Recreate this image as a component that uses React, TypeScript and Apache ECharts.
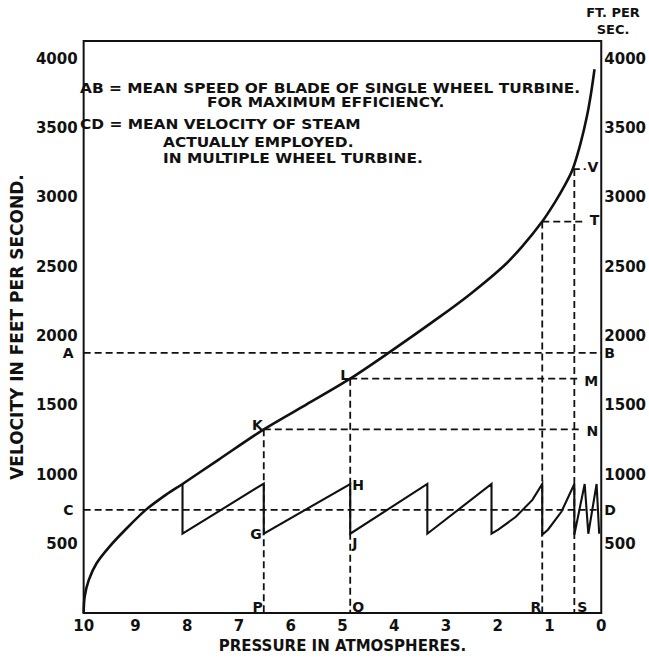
import React, { useEffect, useRef } from "react";
import * as echarts from "echarts";

// ---- data ----
const pressureTicks = [10, 9, 8, 7, 6, 5, 4, 3, 2, 1, 0];
const velocityTicks = [500, 1000, 1500, 2000, 2500, 3000, 3500, 4000];
const velocityTop = 4129;

// velocity of steam vs. pressure (main curve)
const curvePressure = [10, 9.98, 9.9, 9.75, 9.5, 9.2, 8.8, 8.4, 8.09, 7.39, 6.52, 5.7, 4.85, 4.11, 3.17, 2.54, 1.9, 1.53, 1.14, 0.89, 0.7, 0.55, 0.4, 0.28, 0.2, 0.13];
const curveVelocity = [0, 120, 240, 360, 480, 600, 745, 857, 932, 1108, 1326, 1505, 1692, 1878, 2125, 2300, 2500, 2645, 2826, 2968, 3090, 3205, 3390, 3580, 3745, 3925];

// multiple wheel turbine sawtooth
const sawPressure = [8.09, 8.09, 6.52, 6.52, 4.85, 4.85, 3.36, 3.36, 2.12, 2.12, 1.99, 1.65, 1.33, 1.14, 1.14, 1.03, 0.77, 0.52, 0.52, 0.32, 0.25, 0.09, 0.04];
const sawVelocity = [932, 573, 935, 573, 932, 573, 932, 573, 932, 573, 602, 695, 817, 932, 566, 602, 731, 932, 566, 932, 573, 932, 573];

// dashed guide lines: horizontal [from pressure, to pressure, velocity]
const hGuideFrom = [10, 10, 6.52, 4.85, 1.14, 0.55];
const hGuideTo = [0, 0, 0.38, 0.42, 0.32, 0.3];
const hGuideVelocity = [1878, 745, 1326, 1692, 2826, 3205];
// vertical [pressure, from velocity] down to zero
const vGuidePressure = [6.52, 4.85, 1.14, 0.52];
const vGuideVelocity = [1326, 1692, 2826, 3205];

// letter annotations
const letterNames = ["A", "B", "C", "D", "K", "L", "H", "G", "J", "P", "Q", "R", "S", "M", "N", "T", "V"];
const letterPressure = [10, 0, 10, 0, 6.52, 4.85, 4.85, 6.52, 4.85, 6.52, 4.85, 1.14, 0.52, 0, 0, 0, 0];
const letterVelocity = [1878, 1878, 745, 745, 1326, 1692, 932, 573, 573, 43, 43, 43, 43, 1692, 1326, 2826, 3205];

const notes = [
  "AB = MEAN SPEED OF BLADE OF SINGLE WHEEL TURBINE.",
  "FOR MAXIMUM EFFICIENCY.",
  "CD = MEAN VELOCITY OF STEAM",
  "ACTUALLY EMPLOYED.",
  "IN MULTIPLE WHEEL TURBINE.",
];

// ---- styling ----
const INK = "#111";
const FONT = "DejaVu Sans";
const letterPlacement: Record<string, { position: string; distance: number; offset: number[] }> = {
  A: { position: "left", distance: 10, offset: [0, 0] },
  B: { position: "right", distance: 3, offset: [0, 0] },
  C: { position: "left", distance: 10, offset: [0, 0] },
  D: { position: "right", distance: 3, offset: [0, 0] },
  K: { position: "left", distance: 1, offset: [0, -4] },
  L: { position: "left", distance: 1, offset: [0, -4] },
  H: { position: "right", distance: 2, offset: [0, 1] },
  G: { position: "left", distance: 2, offset: [0, 0] },
  J: { position: "right", distance: 2, offset: [0, 9] },
  P: { position: "left", distance: 1, offset: [0, 0] },
  Q: { position: "right", distance: 2, offset: [0, 0] },
  R: { position: "left", distance: 1, offset: [0, 0] },
  S: { position: "right", distance: 3, offset: [0, 0] },
  M: { position: "left", distance: 3, offset: [0, 2] },
  N: { position: "left", distance: 3, offset: [0, 2] },
  T: { position: "left", distance: 2, offset: [0, -2] },
  V: { position: "left", distance: 3, offset: [0, -2] },
};

const notePos = [
  [80, 88],
  [207, 102],
  [80, 124],
  [163, 142],
  [163, 158],
];
const noteStretch = 1.1;

export default function App() {
  const ref = useRef<HTMLDivElement>(null);

  useEffect(() => {
    if (!ref.current) return;
    const chart = echarts.init(ref.current, undefined, { renderer: "svg" });

    const dash = { color: INK, width: 1.8, type: [7, 4] as any };
    const guideSeries: any[] = [];
    hGuideVelocity.forEach((v, i) => {
      guideSeries.push({
        type: "line",
        data: [
          [hGuideFrom[i], v],
          [hGuideTo[i], v],
        ],
        symbol: "none",
        lineStyle: dash,
        silent: true,
        z: 1,
      });
    });
    vGuidePressure.forEach((p, i) => {
      guideSeries.push({
        type: "line",
        data: [
          [p, vGuideVelocity[i]],
          [p, 0],
        ],
        symbol: "none",
        lineStyle: dash,
        silent: true,
        z: 1,
      });
    });

    const velocityLabel = (val: number) =>
      velocityTicks.indexOf(val) >= 0 ? String(val) : "";

    const labelText = {
      color: INK,
      fontFamily: FONT,
      fontWeight: "bold" as const,
      fontSize: 15,
    };

    chart.setOption({
      animation: false,
      backgroundColor: "#fff",
      grid: {
        left: 78,
        right: 42,
        top: 41,
        bottom: 41,
        show: true,
        borderColor: INK,
        borderWidth: 2,
        backgroundColor: "transparent",
      },
      xAxis: {
        type: "value",
        min: 0,
        max: 10,
        interval: 1,
        inverse: true,
        axisLine: { show: false },
        axisTick: { show: false },
        splitLine: { show: false },
        axisLabel: {
          ...labelText,
          margin: 5,
          formatter: (v: number) => (pressureTicks.indexOf(v) >= 0 ? String(v) : ""),
        },
        name: "PRESSURE IN ATMOSPHERES.",
        nameLocation: "middle",
        nameGap: 23,
        nameTextStyle: { ...labelText, fontSize: 15 },
      },
      yAxis: [
        {
          type: "value",
          min: 0,
          max: velocityTop,
          interval: 500,
          position: "left",
          axisLine: { show: false },
          axisTick: { show: false },
          splitLine: { show: false },
          axisLabel: { ...labelText, margin: 6, formatter: velocityLabel },
          name: "VELOCITY IN FEET PER SECOND.",
          nameLocation: "middle",
          nameGap: 55,
          nameTextStyle: { ...labelText, fontSize: 17 },
        },
        {
          type: "value",
          min: 0,
          max: velocityTop,
          interval: 500,
          position: "right",
          axisLine: { show: false },
          axisTick: { show: false },
          splitLine: { show: false },
          axisLabel: { ...labelText, margin: 3, formatter: velocityLabel },
        },
      ],
      series: [
        ...guideSeries,
        {
          type: "line",
          data: curvePressure.map((p, i) => [p, curveVelocity[i]]),
          smooth: 0.3,
          symbol: "none",
          lineStyle: { color: INK, width: 2.6 },
          silent: true,
          z: 3,
        },
        {
          type: "line",
          data: sawPressure.map((p, i) => [p, sawVelocity[i]]),
          symbol: "none",
          lineStyle: { color: INK, width: 2.1, join: "miter" },
          silent: true,
          z: 3,
        },
        {
          type: "scatter",
          symbolSize: 0,
          silent: true,
          z: 5,
          itemStyle: { opacity: 1, color: INK },
          data: letterNames.map((n, i) => {
            const pl = letterPlacement[n];
            return {
              value: [letterPressure[i], letterVelocity[i]],
              label: {
                show: true,
                formatter: n,
                position: pl.position,
                distance: pl.distance,
                offset: pl.offset,
                ...labelText,
                fontSize: 14,
                opacity: 1,
              },
            };
          }),
        },
      ],
      graphic: [
        ...notes.map((t, i) => ({
          type: "text",
          x: notePos[i][0],
          y: notePos[i][1],
          scaleX: noteStretch,
          style: {
            text: t,
            fill: INK,
            font: `bold 14px "${FONT}"`,
            verticalAlign: "middle",
            lineHeight: 14,
          },
          silent: true,
        })),
        {
          type: "text",
          x: 613,
          y: 12,
          style: {
            text: "FT. PER",
            fill: INK,
            font: `bold 13px "${FONT}"`,
            align: "center",
            verticalAlign: "middle",
          },
        },
        {
          type: "text",
          x: 613,
          y: 29,
          style: {
            text: "SEC.",
            fill: INK,
            font: `bold 13px "${FONT}"`,
            align: "center",
            verticalAlign: "middle",
          },
        },
      ],
    });

    return () => chart.dispose();
  }, []);

  return (
    <div
      ref={ref}
      style={{ position: "absolute", left: 0, top: 0, width: 649, height: 658, background: "#fff" }}
    />
  );
}
